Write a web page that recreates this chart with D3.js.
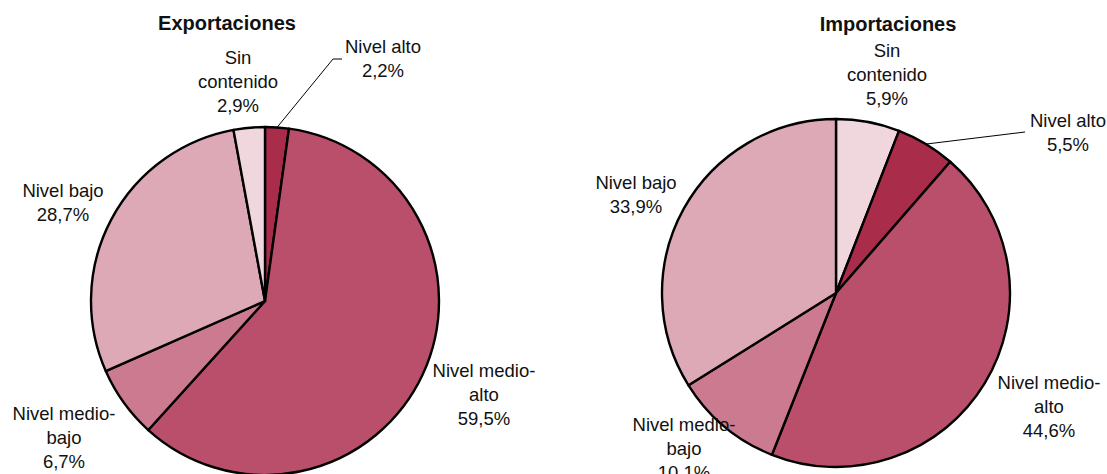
<!DOCTYPE html>
<html>
<head>
<meta charset="utf-8">
<script src="https://cdn.jsdelivr.net/npm/d3@7"></script>
<style>
  body { margin: 0; background: #fff; }
  svg text { font-family: "Liberation Sans", Arial, sans-serif; fill: #111; }
</style>
</head>
<body>
<div id="root"></div>
<script>
// Data
const exportCategories = ["Nivel alto", "Nivel medio-alto", "Nivel medio-bajo", "Nivel bajo", "Sin contenido"];
const exportValues = [2.2, 59.5, 6.7, 28.7, 2.9];

const importCategories = ["Sin contenido", "Nivel alto", "Nivel medio-alto", "Nivel medio-bajo", "Nivel bajo"];
const importValues = [5.9, 5.5, 44.6, 10.1, 33.9];

// Size of the chart
const width = 1107;
const height = 474;
const radius = 174;
const lineHeight = 24;

// color per category
const color = d3.scaleOrdinal()
  .domain(["Nivel alto", "Nivel medio-alto", "Nivel medio-bajo", "Nivel bajo", "Sin contenido"])
  .range(["#aa2c4b", "#b94f6a", "#cb7a90", "#dda9b6", "#f0d7de"]);

// label lines for each category
const labelLines = {
  "Nivel alto": ["Nivel alto"],
  "Nivel medio-alto": ["Nivel medio-", "alto"],
  "Nivel medio-bajo": ["Nivel medio-", "bajo"],
  "Nivel bajo": ["Nivel bajo"],
  "Sin contenido": ["Sin", "contenido"]
};

const svg = d3
  .select("#root")
  .append("svg")
  .attr("width", width)
  .attr("height", height);

const fmt = v => d3.format(".1f")(v).replace(".", ",") + "%";

function drawPie(opts) {
  const data = opts.categories.map((c, i) => ({ name: c, value: opts.values[i] }));

  const pie = d3.pie().sort(null).value(d => d.value);
  const arc = d3.arc().innerRadius(0).outerRadius(radius);

  const g = svg.append("g")
    .attr("transform", "translate(" + opts.cx + "," + opts.cy + ")");

  g.selectAll("path")
    .data(pie(data))
    .enter()
    .append("path")
    .attr("d", arc)
    .attr("fill", d => color(d.data.name))
    .attr("stroke", "#000")
    .attr("stroke-width", 2.4)
    .attr("stroke-linejoin", "round");

  // title
  svg.append("text")
    .attr("x", opts.titleX)
    .attr("y", opts.titleY)
    .attr("text-anchor", "middle")
    .attr("font-size", "20px")
    .attr("font-weight", "bold")
    .text(opts.title);

  // labels
  data.forEach(d => {
    const pos = opts.labels[d.name];
    const lines = labelLines[d.name].concat([fmt(d.value)]);
    const t = svg.append("text")
      .attr("text-anchor", "middle")
      .attr("font-size", "18.5px");
    lines.forEach((l, i) => {
      t.append("tspan")
        .attr("x", pos[0])
        .attr("y", pos[1] + i * lineHeight)
        .text(l);
    });
  });

  // leader line
  if (opts.leader) {
    const s = pie(data).find(d => d.data.name === opts.leader.name);
    const a = (s.startAngle + s.endAngle) / 2;
    const x0 = opts.cx + Math.sin(a) * radius;
    const y0 = opts.cy - Math.cos(a) * radius;
    svg.append("polyline")
      .attr("points", [[x0, y0]].concat(opts.leader.points).map(p => p.join(",")).join(" "))
      .attr("fill", "none")
      .attr("stroke", "#000")
      .attr("stroke-width", 1);
  }
}

drawPie({
  title: "Exportaciones",
  titleX: 227, titleY: 30,
  cx: 265, cy: 301,
  categories: exportCategories,
  values: exportValues,
  labels: {
    "Nivel alto": [383, 53],
    "Nivel medio-alto": [484, 377],
    "Nivel medio-bajo": [64, 420],
    "Nivel bajo": [63, 197],
    "Sin contenido": [238, 64]
  },
  leader: { name: "Nivel alto", points: [[333, 59], [342, 59]] }
});

drawPie({
  title: "Importaciones",
  titleX: 888, titleY: 31,
  cx: 836, cy: 293,
  categories: importCategories,
  values: importValues,
  labels: {
    "Nivel alto": [1068, 127],
    "Nivel medio-alto": [1049, 389],
    "Nivel medio-bajo": [684, 431],
    "Nivel bajo": [636, 189],
    "Sin contenido": [887, 57]
  },
  leader: { name: "Nivel alto", points: [[1025, 132]] }
});
</script>
</body>
</html>
